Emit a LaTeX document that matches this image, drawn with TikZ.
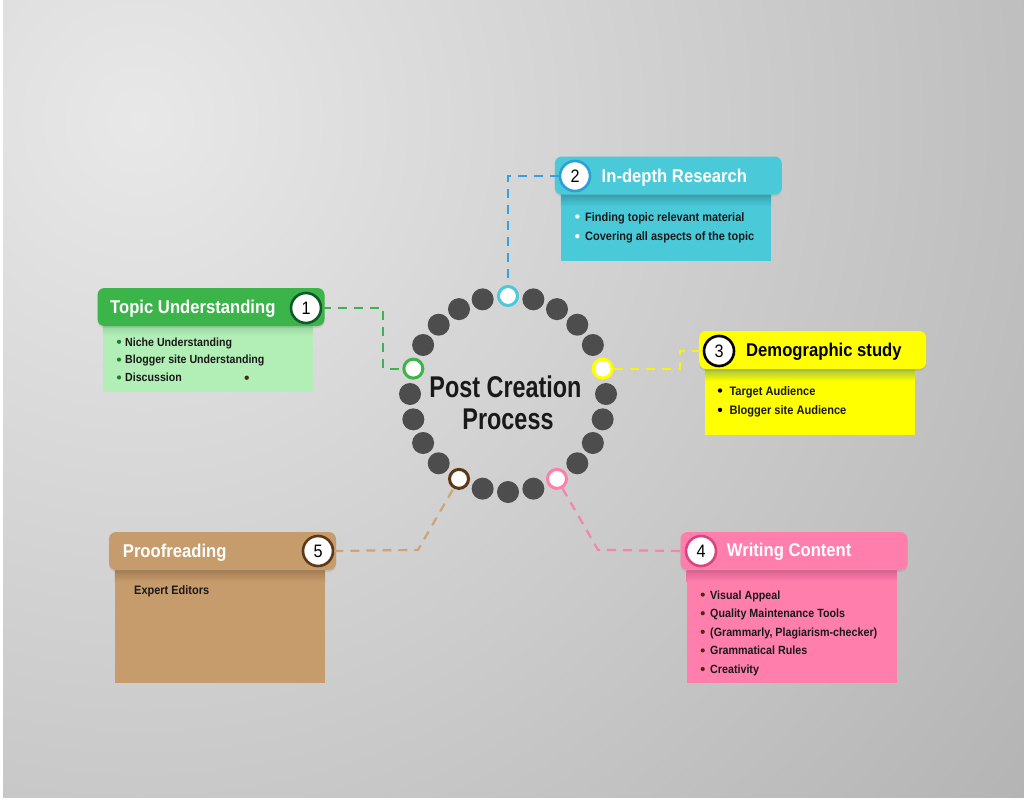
\documentclass[tikz,border=0pt]{standalone}
\usepackage{fontspec}
\setmainfont[FakeStretch=0.9]{Liberation Sans}
\newfontfamily\hubfont[FakeStretch=0.78]{Liberation Sans}
\usetikzlibrary{calc,shadows}

\definecolor{bglight}{HTML}{E8E8E8}
\definecolor{bgdark}{HTML}{B0B0B0}
\definecolor{dotgray}{HTML}{4D4D4D}
\definecolor{tu}{HTML}{3BB54A}
\definecolor{tubody}{HTML}{B2EFB6}
\definecolor{tuband}{HTML}{9AD69F}
\definecolor{tunum}{HTML}{0E5A26}
\definecolor{tubullet}{HTML}{1C7A3C}
\definecolor{rs}{HTML}{4ACAD9}
\definecolor{rsband}{HTML}{34A2B0}
\definecolor{rsnum}{HTML}{2B9FD8}
\definecolor{rslink}{HTML}{3A9FE0}
\definecolor{ds}{HTML}{FFFF00}
\definecolor{dsband}{HTML}{A6C23C}
\definecolor{dslink}{HTML}{F5F218}
\definecolor{wc}{HTML}{FF7EAC}
\definecolor{wcband}{HTML}{DE6290}
\definecolor{wcnum}{HTML}{D9467F}
\definecolor{wclink}{HTML}{F483AE}
\definecolor{wcbullet}{HTML}{4A2A10}
\definecolor{pr}{HTML}{C79C6C}
\definecolor{prband}{HTML}{A47C52}
\definecolor{prnum}{HTML}{5E3818}
\definecolor{prlink}{HTML}{CFA374}
\definecolor{prring}{HTML}{5C3814}

\begin{document}
\begin{tikzpicture}[x=1pt,y=-1pt,
    head/.style={rectangle, rounded corners=7pt, minimum width=227pt, minimum height=38pt, inner sep=0pt,
      drop shadow={opacity=0.2, shadow xshift=0pt, shadow yshift=-2pt}},
    body/.style={rectangle, minimum width=210pt, inner sep=0pt, anchor=north},
    numc/.style={circle, draw=#1, fill=white, line width=2.6pt, minimum size=30pt, inner sep=0pt,
      font=\fontsize{18}{18}\selectfont, drop shadow={opacity=0.35, shadow xshift=1pt, shadow yshift=-1pt}},
    ttl/.style={anchor=base west, inner sep=0pt, font=\fontsize{18.5}{20}\selectfont\bfseries},
    item/.style={anchor=base west, inner sep=0pt, text=black!90, font=\fontsize{#1}{14}\selectfont\bfseries},
    hubtext/.style={anchor=base, inner sep=0pt, text=black!90, font=\hubfont\fontsize{30}{31}\selectfont\bfseries},
    dot/.style={circle, fill=dotgray, minimum size=22pt, inner sep=0pt},
    ring/.style={circle, draw=#1, fill=white, line width=3pt, minimum size=19pt, inner sep=0pt},
    link/.style={draw=#1, line width=2.2pt, dash pattern=on 9pt off 7pt}
  ]
  % Background
  \fill[white] (0,0) rectangle (1024,800);
  \begin{scope}
    \clip (3,0) rectangle (1024,797);
    \shade[inner color=bglight, outer color=bgdark] (140,120) circle (1200pt);
  \end{scope}

  % Hub
  \coordinate (hub) at (508,394);
  \foreach \a in {0,30,45,60,75,105,120,135,150,180,195,210,225,255,270,285,315,330,345}
    \node[dot] (d\a) at ([shift={(\a:98pt)}]hub) {};
  \node[ring=rs] (rc) at ([shift={(90:98pt)}]hub) {};
  \node[ring=tu] (rg) at ([shift={(165:98pt)}]hub) {};
  \node[ring=ds] (ry) at ([shift={(15:98pt)}]hub) {};
  \node[ring=wc] (rp) at ([shift={(-60:98pt)}]hub) {};
  \node[ring=prring] (rb) at ([shift={(-120:98pt)}]hub) {};
  \node[hubtext] (hub1) at (505.5,397.7) {Post Creation};
  \node[hubtext] (hub2) at (508,429.3) {Process};

  % Topic Understanding
  \node[body, fill=tubody, minimum height=66pt] (b1) at (208,326) {};
  \shade[top color=tuband, bottom color=tubody] (b1.north west) rectangle ([yshift=-10pt]b1.north east);
  \node[head, fill=tu] (h1) at (211,307) {};
  \node[ttl, text=white] (t1) at (110,313.3) {Topic Understanding};
  \node[numc=tunum] (n1) at (306,308) {1};
  \foreach \t [count=\i] in {Niche Understanding, Blogger site Understanding, Discussion} {
    \node[item=11.8] (tu\i) at (125,{346+17.8*(\i-1)}) {\t};
    \fill[tubullet] ([xshift=-6pt,yshift=4.2pt]tu\i.base west) circle (2.1pt);
  }
  \fill[wcbullet] (246.7,377.7) circle (2.2pt);

  % In-depth Research
  \node[body, fill=rs, minimum height=66pt] (b2) at (666,194.5) {};
  \shade[top color=rsband, bottom color=rs] (b2.north west) rectangle ([yshift=-12pt]b2.north east);
  \node[head, fill=rs] (h2) at (668.3,175.5) {};
  \node[ttl, text=white] (t2) at (601.5,182.3) {In-depth Research};
  \node[numc=rsnum] (n2) at (575,176) {2};
  \foreach \t [count=\i] in {Finding topic relevant material, Covering all aspects of the topic} {
    \node[item=12.2] (rs\i) at (585,{221+19.7*(\i-1)}) {\t};
    \fill[white] ([xshift=-7.7pt,yshift=4.5pt]rs\i.base west) circle (2.2pt);
  }

  % Demographic study
  \node[body, fill=ds, minimum height=66pt] (b3) at (810,369) {};
  \shade[top color=dsband, bottom color=ds] (b3.north west) rectangle ([yshift=-12pt]b3.north east);
  \node[head, fill=ds] (h3) at (812.7,350) {};
  \node[ttl, text=black] (t3) at (746,356) {Demographic study};
  \node[numc=black] (n3) at (719,351) {3};
  \foreach \t [count=\i] in {Target Audience, Blogger site Audience} {
    \node[item=12.3] (ds\i) at (729.3,{395+19.4*(\i-1)}) {\t};
    \fill[black] ([xshift=-9.3pt,yshift=4.5pt]ds\i.base west) circle (2.2pt);
  }

  % Writing Content
  \node[body, fill=wc, minimum height=112.5pt] (b4) at (791.7,570) {};
  \shade[top color=wcband, bottom color=wc] (b4.north west) rectangle ([yshift=-12pt]b4.north east);
  \node[head, fill=wc] (h4) at (794,551) {};
  \node[ttl, text=white] (t4) at (726.7,556.7) {Writing Content};
  \node[numc=wcnum] (n4) at (701,551) {4};
  \foreach \t [count=\i] in {Visual Appeal, Quality Maintenance Tools, {(Grammarly, Plagiarism-checker)}, Grammatical Rules, Creativity} {
    \node[item=11.9] (wc\i) at (710,{599+18.6*(\i-1)}) {\t};
    \fill[wcbullet] ([xshift=-7.3pt,yshift=4.4pt]wc\i.base west) circle (2.1pt);
  }

  % Proofreading
  \node[body, fill=pr, minimum height=112.5pt] (b5) at (220,570) {};
  \shade[top color=prband, bottom color=pr] (b5.north west) rectangle ([yshift=-12pt]b5.north east);
  \node[head, fill=pr] (h5) at (222.5,551) {};
  \node[ttl, text=white] (t5) at (122.7,557.3) {Proofreading};
  \node[numc=prnum] (n5) at (318,551) {5};
  \node[item=12.2] (pr1) at (134,594) {Expert Editors};

  % Connections
  \draw[link=tu] (n1.east) -| ([xshift=-19pt]rg.west) -- (rg.west);
  \draw[link=rslink] (n2.west) -| (rc.north);
  \draw[link=dslink] (ry.east) -| ([xshift=-23pt]n3.west) -- (n3.west);
  \draw[link=wclink] (rp.-60) -- ([shift={(-60:82pt)}]rp.center) -- (n4.west);
  \draw[link=prlink] (n5.east) -- ([shift={(240:82pt)}]rb.center) -- (rb.240);
\end{tikzpicture}
\end{document}
